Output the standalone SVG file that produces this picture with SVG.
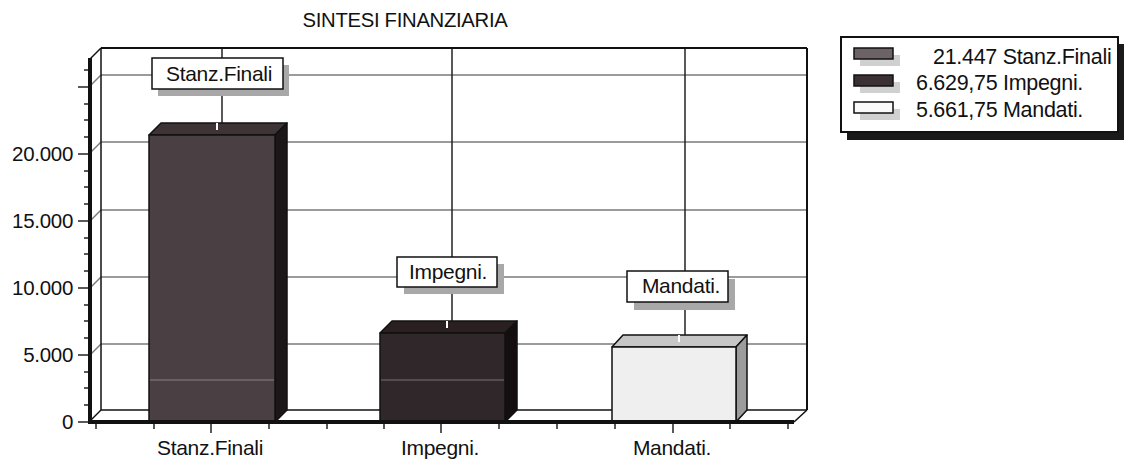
<svg xmlns="http://www.w3.org/2000/svg" width="1128" height="465" viewBox="0 0 1128 465">
<style>
text{font-family:"Liberation Sans",Arial,sans-serif;fill:#111;letter-spacing:-0.3px}
.grid{stroke:#7a7a7a;stroke-width:1.5;fill:none}
.vgrid{stroke:#222;stroke-width:1.5;fill:none}
.edge{stroke:#111;stroke-width:1.5;fill:none}
.tick{stroke:#222;stroke-width:1.5}
.lbl{fill:#fff;stroke:#111;stroke-width:1.5}
.shd{fill:#a8a8a8}
.bar{stroke:#111;stroke-width:1.5;stroke-linejoin:round}
</style>
<rect width="1128" height="465" fill="#fff"/>
<text x="405" y="27" font-size="20.3" text-anchor="middle">SINTESI FINANZIARIA</text>
<g id="axes">
<g class="grid">
<line x1="101" y1="75" x2="807" y2="75"/>
<line x1="101" y1="142" x2="807" y2="142"/>
<line x1="101" y1="210" x2="807" y2="210"/>
<line x1="101" y1="277" x2="807" y2="277"/>
<line x1="101" y1="344" x2="807" y2="344"/>
<line x1="89" y1="87" x2="101" y2="75"/>
<line x1="89" y1="154" x2="101" y2="142"/>
<line x1="89" y1="222" x2="101" y2="210"/>
<line x1="89" y1="289" x2="101" y2="277"/>
<line x1="89" y1="356" x2="101" y2="344"/>
</g>
<g class="vgrid">
<line x1="222" y1="48" x2="222" y2="410"/>
<line x1="452" y1="48" x2="452" y2="410"/>
<line x1="685" y1="48" x2="685" y2="410"/>
</g>
<line x1="101" y1="48" x2="807" y2="48" stroke="#111" stroke-width="2"/>
<line x1="807" y1="48" x2="807" y2="410" stroke="#111" stroke-width="2"/>
<line x1="101" y1="48" x2="101" y2="410" class="edge"/>
<line x1="89" y1="60" x2="101" y2="48" class="edge"/>
<line x1="101" y1="410" x2="807" y2="410" class="edge"/>
<line x1="89" y1="422" x2="101" y2="410" class="edge"/>
<line x1="794" y1="422" x2="807" y2="410" class="edge"/>
</g>
<g id="bar-stanz">
<polygon class="bar" points="149,135 161,123 287,123 275,135" fill="#3e3436"/>
<polygon class="bar" points="275,135 287,123 287,410 275,422" fill="#1d1618"/>
<rect class="bar" x="149" y="135" width="126" height="287" fill="#4a4043"/>
<line x1="150" y1="380" x2="274" y2="380" stroke="#8a8080" stroke-width="1"/>
<line x1="217" y1="123" x2="217" y2="130" stroke="#fff" stroke-width="2"/>
</g>
<g id="bar-impegni">
<polygon class="bar" points="380,333 392,321 517,321 505,333" fill="#2a2022"/>
<polygon class="bar" points="505,333 517,321 517,410 505,422" fill="#140e10"/>
<rect class="bar" x="380" y="333" width="125" height="89" fill="#30272a"/>
<line x1="381" y1="380" x2="504" y2="380" stroke="#7a7070" stroke-width="1"/>
<line x1="447" y1="321" x2="447" y2="328" stroke="#fff" stroke-width="2"/>
</g>
<g id="bar-mandati">
<polygon class="bar" points="612,347 623,335 747,335 736,347" fill="#c6c6c6"/>
<polygon class="bar" points="736,347 747,335 747,410 736,422" fill="#9c9c9c"/>
<rect class="bar" x="612" y="347" width="124" height="75" fill="#efefef"/>
<line x1="679" y1="335" x2="679" y2="342" stroke="#fff" stroke-width="2"/>
</g>
<g id="floor-front">
<rect x="88" y="58" width="4" height="366" fill="#111"/>
<rect x="89" y="420" width="705" height="4" fill="#111"/>
<g class="tick">
<line x1="78" y1="422" x2="88" y2="422"/>
<line x1="78" y1="355" x2="88" y2="355"/>
<line x1="78" y1="288" x2="88" y2="288"/>
<line x1="78" y1="221" x2="88" y2="221"/>
<line x1="78" y1="154" x2="88" y2="154"/>
<line x1="78" y1="87" x2="88" y2="87"/>
<line x1="84" y1="405" x2="88" y2="405"/>
<line x1="84" y1="388" x2="88" y2="388"/>
<line x1="84" y1="372" x2="88" y2="372"/>
<line x1="84" y1="338" x2="88" y2="338"/>
<line x1="84" y1="321" x2="88" y2="321"/>
<line x1="84" y1="305" x2="88" y2="305"/>
<line x1="84" y1="271" x2="88" y2="271"/>
<line x1="84" y1="254" x2="88" y2="254"/>
<line x1="84" y1="238" x2="88" y2="238"/>
<line x1="84" y1="204" x2="88" y2="204"/>
<line x1="84" y1="187" x2="88" y2="187"/>
<line x1="84" y1="171" x2="88" y2="171"/>
<line x1="84" y1="137" x2="88" y2="137"/>
<line x1="84" y1="120" x2="88" y2="120"/>
<line x1="84" y1="104" x2="88" y2="104"/>
<line x1="84" y1="70" x2="88" y2="70"/>
<line x1="96" y1="424" x2="96" y2="429"/>
<line x1="154" y1="424" x2="154" y2="429"/>
<line x1="211" y1="424" x2="211" y2="433"/>
<line x1="269" y1="424" x2="269" y2="429"/>
<line x1="327" y1="424" x2="327" y2="429"/>
<line x1="384" y1="424" x2="384" y2="429"/>
<line x1="441" y1="424" x2="441" y2="433"/>
<line x1="499" y1="424" x2="499" y2="429"/>
<line x1="557" y1="424" x2="557" y2="429"/>
<line x1="615" y1="424" x2="615" y2="429"/>
<line x1="673" y1="424" x2="673" y2="433"/>
<line x1="730" y1="424" x2="730" y2="429"/>
<line x1="788" y1="424" x2="788" y2="429"/>
</g>
<g font-size="20.5" text-anchor="end">
<text x="73" y="429">0</text>
<text x="73" y="362">5.000</text>
<text x="73" y="295">10.000</text>
<text x="73" y="228">15.000</text>
<text x="73" y="161">20.000</text>
</g>
<g font-size="21" text-anchor="middle">
<text x="210" y="455">Stanz.Finali</text>
<text x="440" y="455">Impegni.</text>
<text x="672" y="455">Mandati.</text>
</g>
</g>
<g id="label-stanz">
<rect class="shd" x="158" y="65" width="131" height="31"/>
<rect class="lbl" x="152" y="58" width="131" height="31"/>
<text x="219" y="81" font-size="21" text-anchor="middle">Stanz.Finali</text>
</g>
<g id="label-impegni">
<rect class="shd" x="404" y="264" width="100" height="30"/>
<rect class="lbl" x="397" y="257" width="100" height="30"/>
<text x="448" y="279" font-size="21" text-anchor="middle">Impegni.</text>
</g>
<g id="label-mandati">
<rect class="shd" x="634" y="279" width="101" height="31"/>
<rect class="lbl" x="627" y="271" width="101" height="31"/>
<text x="681" y="293" font-size="21" text-anchor="middle">Mandati.</text>
</g>
<g id="legend">
<rect x="847" y="44" width="277" height="96" fill="#1a1a1a"/>
<rect x="841" y="37" width="277" height="95" fill="#fff" stroke="#111" stroke-width="2"/>
<rect x="860" y="55" width="40" height="11" fill="#d0d0d0"/>
<rect x="854" y="48" width="39" height="11" fill="#6d6265" stroke="#111" stroke-width="1.5"/>
<rect x="860" y="82" width="40" height="11" fill="#d0d0d0"/>
<rect x="854" y="75" width="39" height="11" fill="#3b3134" stroke="#111" stroke-width="1.5"/>
<rect x="860" y="109" width="40" height="11" fill="#d0d0d0"/>
<rect x="854" y="102" width="39" height="11" fill="#fafafa" stroke="#111" stroke-width="1.5"/>
<g font-size="21.5">
<text x="933" y="64">21.447 Stanz.Finali</text>
<text x="916" y="90">6.629,75 Impegni.</text>
<text x="916" y="117">5.661,75 Mandati.</text>
</g>
</g>
</svg>
